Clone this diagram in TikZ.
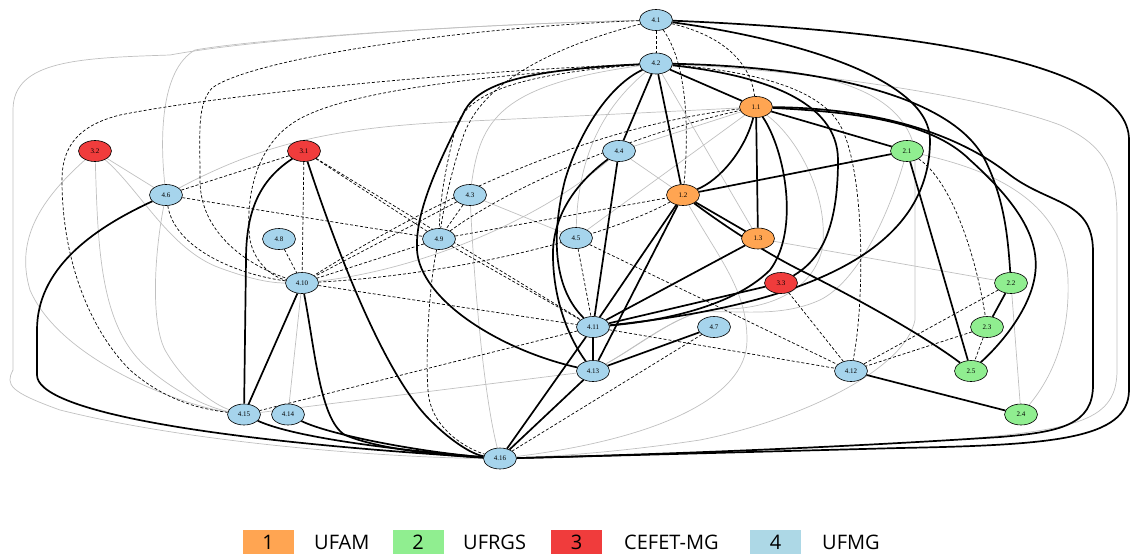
\documentclass[tikz,border=0pt]{standalone}
\usepackage{fontspec}
\setmainfont{Liberation Serif}
\newfontfamily\legfont{Open Sans}
\usetikzlibrary{shapes.geometric}
\definecolor{corange}{RGB}{255,165,82}
\definecolor{cgreen}{RGB}{144,238,144}
\definecolor{cred}{RGB}{240,60,60}
\definecolor{cblue}{RGB}{166,212,236}
\definecolor{clblue}{RGB}{173,216,230}
\definecolor{cgline}{RGB}{192,192,192}
\pgfdeclarelayer{edgelayer}
\pgfsetlayers{edgelayer,main}
\begin{document}
\begin{tikzpicture}[x=1pt,y=-1pt,
  nd/.style={ellipse,draw=black,line width=0.6pt,minimum width=33pt,minimum height=21pt,inner sep=0pt,font=\fontsize{7}{7}\selectfont},
  nO/.style={nd,fill=corange},
  nG/.style={nd,fill=cgreen},
  nR/.style={nd,fill=cred},
  nB/.style={nd,fill=cblue},
  tk/.style={line width=1.7pt,black},
  ds/.style={line width=0.7pt,black,dash pattern=on 3pt off 2pt},
  gr/.style={line width=0.7pt,cgline},
  legbox/.style={minimum width=51pt,minimum height=24pt,inner sep=0pt,font=\legfont\fontsize{20}{20}\selectfont},
  legtext/.style={anchor=west,inner sep=0pt,font=\legfont\fontsize{20}{20}\selectfont}]
\useasboundingbox (0,0) rectangle (1130,554);
% nodes
\node[nB] (n41) at (656,20) {4.1};
\node[nB] (n42) at (656,63.5) {4.2};
\node[nO] (n11) at (756,107) {1.1};
\node[nG] (n21) at (907,151) {2.1};
\node[nR] (n32) at (95,151) {3.2};
\node[nR] (n31) at (304,151) {3.1};
\node[nB] (n44) at (619,151) {4.4};
\node[nB] (n46) at (166,195) {4.6};
\node[nB] (n43) at (470,195) {4.3};
\node[nO] (n12) at (683,195) {1.2};
\node[nB] (n48) at (279,239) {4.8};
\node[nB] (n49) at (439,239) {4.9};
\node[nB] (n45) at (576,238) {4.5};
\node[nO] (n13) at (758,238.5) {1.3};
\node[nB] (n410) at (302,283) {4.10};
\node[nR] (n33) at (781,283) {3.3};
\node[nG] (n22) at (1011,283) {2.2};
\node[nB] (n411) at (593,327) {4.11};
\node[nB] (n47) at (714,327) {4.7};
\node[nG] (n23) at (987,327) {2.3};
\node[nB] (n413) at (593,371) {4.13};
\node[nB] (n412) at (851,371) {4.12};
\node[nG] (n25) at (971,371) {2.5};
\node[nB] (n415) at (244,414.5) {4.15};
\node[nB] (n414) at (288,414.5) {4.14};
\node[nG] (n24) at (1021,414.5) {2.4};
\node[nB] (n416) at (500,458.5) {4.16};
\begin{pgfonlayer}{edgelayer}
% gray edges
\draw[gr] (n41) .. controls (450,25) and (250,40) .. (170,55) .. controls (80,58) and (13,60) .. (13,110) -- (13,370) .. controls (5,385) and (10,392) .. (60,410) .. controls (200,445) and (400,458) .. (n416);
\draw[gr] (n41) .. controls (450,25) and (250,40) .. (195,50) .. controls (160,70) and (160,140) .. (n46);
\draw[gr] (n32) -- (n46);
\draw[gr] (n32) .. controls (140,190) and (170,250) .. (220,268) .. controls (250,279) and (270,283) .. (n410);
\draw[gr] (n32) .. controls (98,250) and (100,330) .. (150,370) .. controls (180,395) and (210,408) .. (n415);
\draw[gr] (n32) .. controls (40,200) and (15,240) .. (30,290) .. controls (60,360) and (180,405) .. (n415);
\draw[gr] (n46) .. controls (155,250) and (150,320) .. (165,350) .. controls (185,385) and (215,405) .. (n415);
\draw[gr] (n46) .. controls (260,145) and (330,128) .. (450,122) .. controls (600,115) and (700,110) .. (n11);
\draw[gr] (n410) -- (n414);
\draw[gr] (n410) .. controls (420,270) and (540,220) .. (n44);
\draw[gr] (n43) .. controls (480,120) and (500,85) .. (n42);
\draw[gr] (n43) -- (n45);
\draw[gr] (n43) .. controls (475,300) and (485,400) .. (n416);
\draw[gr] (n45) .. controls (578,160) and (600,110) .. (n42);
\draw[gr] (n45) -- (n11);
\draw[gr] (n44) -- (n12);
\draw[gr] (n44) -- (n11);
\draw[gr] (n42) -- (n13);
\draw[gr] (n42) .. controls (800,66) and (900,80) .. (915,150) -- (915,320) .. controls (905,370) and (800,420) .. (700,440) .. controls (620,452) and (560,456) .. (n416);
\draw[gr] (n42) .. controls (800,70) and (980,95) .. (1060,125) .. controls (1105,145) and (1117,170) .. (1117,220) -- (1117,370) .. controls (1117,420) and (1080,430) .. (950,440) .. controls (800,450) and (600,456) .. (n416);
\draw[gr] (n21) .. controls (990,170) and (1065,200) .. (1068,280) .. controls (1070,340) and (1050,380) .. (n24);
\draw[gr] (n22) -- (n24);
\draw[gr] (n13) -- (n22);
\draw[gr] (n415) -- (n413);
\draw[gr] (n11) .. controls (800,140) and (830,200) .. (822,250) .. controls (812,290) and (770,310) .. (720,309) .. controls (680,310) and (640,345) .. (n413);
\draw[gr] (n21) .. controls (890,210) and (860,280) .. (820,300) .. controls (780,318) and (740,310) .. (700,312) .. controls (670,320) and (640,345) .. (n413);
\draw[gr] (n12) .. controls (720,260) and (747,290) .. (747,340) .. controls (747,400) and (650,440) .. (n416);
% dashed edges
\draw[ds] (n41) -- (n42);
\draw[ds] (n41) .. controls (685,60) and (690,120) .. (n12);
\draw[ds] (n41) .. controls (720,35) and (750,60) .. (n11);
\draw[ds] (n41) .. controls (560,45) and (480,80) .. (462,140) .. controls (452,170) and (445,200) .. (n49);
\draw[ds] (n42) .. controls (510,75) and (465,95) .. (455,130) .. controls (445,170) and (440,200) .. (n49);
\draw[ds] (n41) .. controls (450,28) and (250,60) .. (212,88) .. controls (197,105) and (200,130) .. (200,180) .. controls (200,240) and (260,270) .. (n410);
\draw[ds] (n42) .. controls (450,72) and (220,95) .. (120,115) .. controls (80,125) and (62,145) .. (62,180) .. controls (62,260) and (90,330) .. (130,370) .. controls (170,405) and (210,410) .. (n415);
\draw[ds] (n42) .. controls (450,78) and (330,95) .. (290,125) .. controls (255,150) and (245,200) .. (250,240) .. controls (255,265) and (275,278) .. (n410);
\draw[ds] (n42) .. controls (760,72) and (820,90) .. (840,125) .. controls (865,170) and (865,300) .. (n412);
\draw[ds] (n11) .. controls (600,125) and (450,190) .. (n410);
\draw[ds] (n49) .. controls (520,180) and (650,130) .. (n11);
\draw[ds] (n49) -- (n12);
\draw[ds] (n12) .. controls (600,240) and (450,275) .. (n410);
\draw[ds] (n31) -- (n46);
\draw[ds] (n31) -- (n410);
\draw[ds] (n31) -- (n49);
\draw[ds] (n31) -- (n411);
\draw[ds] (n46) -- (n49);
\draw[ds] (n46) .. controls (175,250) and (240,275) .. (n410);
\draw[ds] (n48) -- (n410);
\draw[ds] (n43) -- (n49);
\draw[ds] (n43) -- (n410);
\draw[ds] (n49) -- (n410);
\draw[ds] (n49) -- (n411);
\draw[ds] (n49) .. controls (430,280) and (425,350) .. (428,390) .. controls (430,430) and (470,450) .. (n416);
\draw[ds] (n410) -- (n411);
\draw[ds] (n45) -- (n411);
\draw[ds] (n45) -- (n412);
\draw[ds] (n411) -- (n412);
\draw[ds] (n411) -- (n415);
\draw[ds] (n47) -- (n416);
\draw[ds] (n33) -- (n412);
\draw[ds] (n22) -- (n412);
\draw[ds] (n23) -- (n412);
\draw[ds] (n23) -- (n25);
\draw[ds] (n21) .. controls (950,180) and (975,250) .. (n23);
% thick edges
\draw[tk] (n41) .. controls (900,30) and (1129,60) .. (1129,140) -- (1129,390) .. controls (1129,440) and (1050,445) .. (900,448) .. controls (750,452) and (600,456) .. (n416);
\draw[tk] (n41) .. controls (800,40) and (930,80) .. (930,140) .. controls (930,230) and (850,300) .. (n411);
\draw[tk] (n42) .. controls (800,66) and (950,90) .. (985,160) .. controls (1005,200) and (1008,240) .. (n22);
\draw[tk] (n42) .. controls (760,75) and (838,100) .. (838,160) .. controls (838,230) and (820,260) .. (n33);
\draw[tk] (n42) -- (n11);
\draw[tk] (n42) -- (n44);
\draw[tk] (n42) -- (n12);
\draw[tk] (n42) .. controls (520,70) and (480,85) .. (465,110) .. controls (440,160) and (415,210) .. (417,250) .. controls (420,300) and (500,350) .. (n413);
\draw[tk] (n42) .. controls (610,85) and (580,130) .. (565,180) .. controls (550,240) and (555,290) .. (n411);
\draw[tk] (n44) .. controls (580,180) and (555,210) .. (553,250) .. controls (552,300) and (570,340) .. (n413);
\draw[tk] (n44) -- (n411);
\draw[tk] (n11) .. controls (745,150) and (720,180) .. (n12);
\draw[tk] (n11) -- (n13);
\draw[tk] (n11) .. controls (785,150) and (800,230) .. (770,270) .. controls (730,310) and (650,322) .. (n411);
\draw[tk] (n11) -- (n21);
\draw[tk] (n11) .. controls (850,112) and (930,120) .. (970,160) .. controls (1020,205) and (1040,240) .. (1035,275) .. controls (1030,310) and (1000,345) .. (n25);
\draw[tk] (n11) .. controls (880,108) and (960,135) .. (1010,175) .. controls (1050,205) and (1092,200) .. (1093,250) -- (1093,385) .. controls (1093,425) and (1060,432) .. (1000,437) .. controls (800,450) and (600,456) .. (n416);
\draw[tk] (n12) -- (n21);
\draw[tk] (n12) -- (n13);
\draw[tk] (n12) .. controls (730,230) and (770,255) .. (800,270) .. controls (870,305) and (930,340) .. (n25);
\draw[tk] (n12) -- (n411);
\draw[tk] (n12) -- (n413);
\draw[tk] (n13) -- (n411);
\draw[tk] (n33) -- (n411);
\draw[tk] (n411) -- (n413);
\draw[tk] (n411) -- (n416);
\draw[tk] (n413) -- (n416);
\draw[tk] (n413) -- (n47);
\draw[tk] (n31) .. controls (260,180) and (246,210) .. (246,260) -- (n415);
\draw[tk] (n31) .. controls (330,230) and (380,370) .. (430,420) .. controls (455,445) and (475,455) .. (n416);
\draw[tk] (n410) -- (n415);
\draw[tk] (n410) .. controls (315,350) and (320,420) .. (345,435) .. controls (380,450) and (450,456) .. (n416);
\draw[tk] (n46) .. controls (90,230) and (37,270) .. (37,330) -- (37,375) .. controls (37,410) and (200,440) .. (n416);
\draw[tk] (n415) .. controls (300,440) and (420,452) .. (n416);
\draw[tk] (n414) .. controls (330,435) and (420,452) .. (n416);
\draw[tk] (n412) -- (n24);
\draw[tk] (n21) -- (n25);
\draw[tk] (n22) -- (n23);
\end{pgfonlayer}
% legend
\node[legbox,fill=corange] (lb1) at (268,542) {1};
\node[legtext] (lt1) at (314,542) {UFAM};
\node[legbox,fill=cgreen] (lb2) at (418,542) {2};
\node[legtext] (lt2) at (463,542) {UFRGS};
\node[legbox,fill=cred] (lb3) at (576.5,542) {3};
\node[legtext] (lt3) at (624,542) {CEFET-MG};
\node[legbox,fill=clblue] (lb4) at (775.5,542) {4};
\node[legtext] (lt4) at (822,542) {UFMG};
\end{tikzpicture}
\end{document}
